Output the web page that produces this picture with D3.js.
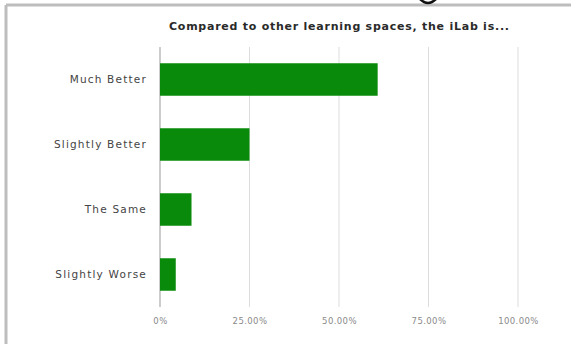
<!DOCTYPE html>
<html>
<head>
<meta charset="utf-8">
<script src="https://cdn.jsdelivr.net/npm/d3@7"></script>
<style>
  body { margin: 0; background: #fff; }
  svg { display: block; font-family: "DejaVu Sans", Arial, sans-serif; }
</style>
</head>
<body>
<div id="chart"></div>
<script>
// ==== Data ====
const categories = ["Much Better", "Slightly Better", "The Same", "Slightly Worse"];
const shares = [0.608, 0.25, 0.088, 0.044];
const tickValues = [0, 0.25, 0.5, 0.75, 1];
const tickLabels = ["0%", "25.00%", "50.00%", "75.00%", "100.00%"];
const title = "Compared to other learning spaces, the iLab is...";

// ==== Setup ====
const width = 571, height = 344;
const svg = d3.select("#chart").append("svg")
  .attr("width", width)
  .attr("height", height);

// frame left/top (edge of the screenshot)
svg.append("line").attr("x1", 6).attr("x2", width).attr("y1", 5).attr("y2", 5)
  .attr("stroke", "#bdbdbd").attr("stroke-width", 3);
svg.append("line").attr("x1", 6).attr("x2", 6).attr("y1", 5).attr("y2", height)
  .attr("stroke", "#bdbdbd").attr("stroke-width", 3);
// bottom of a cut-off glyph from above
svg.append("path").attr("d", "M419,-2 Q428,8 437,-2")
  .attr("fill", "none").attr("stroke", "#111").attr("stroke-width", 2.5);

const margin = { top: 47, left: 160, right: 53, bottom: 37 };
const x = d3.scaleLinear().domain([0, 1]).range([margin.left, width - margin.right]);
const y = d3.scaleBand().domain(categories)
  .range([margin.top, height - margin.bottom])
  .paddingInner(0.5).paddingOuter(0.25);

// title, centred over the plot
svg.append("text").attr("x", (x(0) + x(1)) / 2).attr("y", 30).attr("text-anchor", "middle")
  .attr("font-size", 11).attr("font-weight", "bold").attr("fill", "#2a2a2a")
  .attr("textLength", 340).attr("lengthAdjust", "spacing")
  .text(title);

// gridlines
svg.append("g").selectAll("line").data(tickValues).join("line")
  .attr("x1", d => x(d)).attr("x2", d => x(d))
  .attr("y1", margin.top).attr("y2", height - margin.bottom)
  .attr("stroke", d => d === 0 ? "#999" : "#ddd").attr("stroke-width", 1);

// x axis labels
const xAxis = d3.axisBottom(x).tickValues(tickValues).tickSize(0)
  .tickFormat((d, i) => tickLabels[i]);
const gx = svg.append("g").attr("transform", `translate(0,${height - margin.bottom + 8})`).call(xAxis);
gx.select(".domain").remove();
gx.selectAll("text").attr("font-size", 8.5).attr("fill", "#8a8a8a")
  .attr("font-family", "DejaVu Sans, Arial, sans-serif").attr("letter-spacing", 0.4);

// y axis labels
const yAxis = d3.axisLeft(y).tickSize(0).tickPadding(13);
const gy = svg.append("g").attr("transform", `translate(${margin.left},0)`).call(yAxis);
gy.select(".domain").remove();
gy.selectAll("text").attr("font-size", 10.5).attr("fill", "#444")
  .attr("font-family", "DejaVu Sans, Arial, sans-serif").attr("letter-spacing", 1.2);

// bars
svg.append("g").selectAll("rect").data(categories).join("rect")
  .attr("x", x(0))
  .attr("y", d => y(d))
  .attr("width", (d, i) => x(shares[i]) - x(0))
  .attr("height", y.bandwidth())
  .attr("fill", "#0a8a0a");
</script>
</body>
</html>
